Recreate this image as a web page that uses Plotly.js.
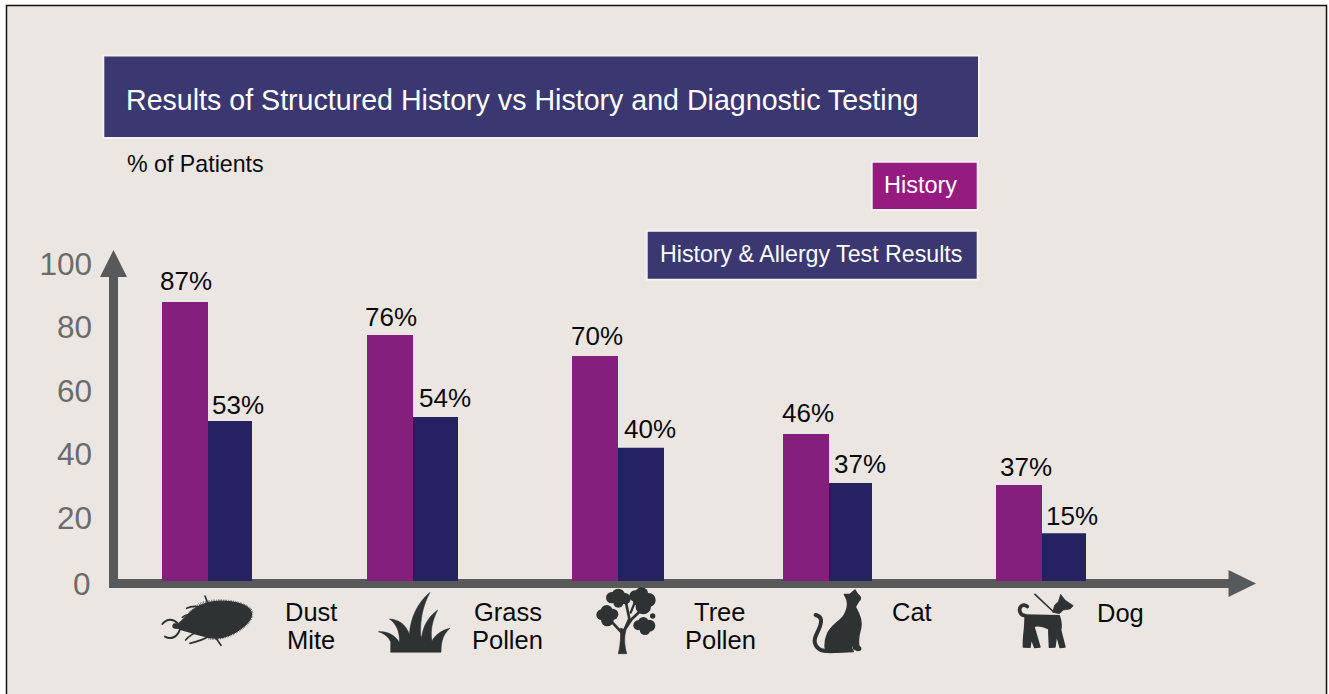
<!DOCTYPE html>
<html>
<head>
<meta charset="utf-8">
<script src="https://cdn.plot.ly/plotly-3.0.1.min.js"></script>
<style>html,body{margin:0;padding:0;background:#fff}#chart{width:1329px;height:694px}</style>
</head>
<body>
<div id="chart"></div>
<script>
// ---- chart data ----
const categories = ["Dust Mite", "Grass Pollen", "Tree Pollen", "Cat", "Dog"];
const seriesNames = ["History", "History & Allergy Test Results"];
const historyHeights = [88, 77.6, 71, 46.4, 30.3];
const testHeights = [50.5, 51.7, 42, 30.9, 15.1];
const historyLabels = ["87%", "76%", "70%", "46%", "37%"];
const testLabels = ["53%", "54%", "40%", "37%", "15%"];
const yTicks = [0, 20, 40, 60, 80, 100];
const titleText = "Results of Structured History vs History and Diagnostic Testing";
const unitText = "% of Patients";

// ---- layout: everything below is in page pixels ----
const W = 1329, H = 694;
const px = x => x / W, py = y => 1 - y / H;
const groupX = [208, 413, 618, 829, 1042];
const testBarWidths = [44, 45, 46, 43, 44];
const catLabelX = [311, 508, 720, 912, 1120];
const histShiftX = [-22, -22, -21, -21, -16];
const histShiftY = [21, 18, 20, 21, 18];
const testShiftX = [30, 32, 32, 31, 30];
const testShiftY = [16, 19, 19, 19, 17];

const C = {bg:"#EBE6E2", purple:"#841F7E", navy:"#262262", banner:"#3B3771", legend:"#951B81",
           edge:"#F4F1EF", axis:"#58595B", tick:"#6A6B6D", icon:"#2F3233"};
const FONT = "Liberation Sans, Arial, sans-serif";
const INK = "#0A0A0A";

function rect(x0, y0, x1, y1, fill, line, lw) {
  return {type:"rect", xref:"paper", yref:"paper", layer:"below",
          x0:px(x0), x1:px(x1), y0:py(y0), y1:py(y1),
          fillcolor:fill, line:{color:line||fill, width:lw===undefined?0:lw}};
}
function poly(points, fill) {
  const d = points.map((p,i)=>(i?"L":"M")+px(p[0])+","+py(p[1])).join(" ")+" Z";
  return {type:"path", xref:"paper", yref:"paper", layer:"below", path:d, fillcolor:fill, line:{width:0}};
}
function text(x, y, s, size, color, anchor) {
  return {xref:"paper", yref:"paper", x:px(x), y:py(y), text:s, showarrow:false,
          xanchor:anchor||"left", yanchor:"middle", font:{family:FONT, size:size, color:color}};
}

const shapes = [
  rect(6.5, 5.5, 1326.5, 720, C.bg, "#111111", 1.5),
  rect(103.3, 55.5, 979, 138, C.banner, C.edge, 2),
  rect(871.7, 161.7, 977.7, 210, C.legend, C.edge, 2),
  rect(646.7, 230.7, 977.7, 279.7, C.banner, C.edge, 2),
  rect(109, 275, 118, 588, C.axis),
  poly([[113.5,250],[127,277],[100,277]], C.axis),
  rect(110, 579, 1229, 588, C.axis),
  poly([[1256,583.5],[1228.5,570],[1228.5,597]], C.axis)
];

const annotations = [
  text(124, 100, titleText, 28.6, "#FFFFFF"),
  text(125, 164, unitText, 23.2, INK),
  text(882, 185, seriesNames[0], 23.5, "#FFFFFF"),
  text(658, 254, seriesNames[1], 23.2, "#FFFFFF"),
  {xref:"x", yref:"y", x:93, y:yTicks[0], yshift:-3, text:String(yTicks[0]), showarrow:false,
   xanchor:"right", yanchor:"middle", font:{family:FONT,size:31.5,color:C.tick}}
];
categories.forEach((c,i)=>{
  const lines = c.split(" ");
  lines.forEach((ln,k)=>annotations.push(text(catLabelX[i], (i===4?613:i===3?612:611.5)+k*28.5, ln, 25.5, INK, "center")));
  annotations.push({xref:"x", yref:"y", x:groupX[i], y:historyHeights[i], text:historyLabels[i], showarrow:false,
    xanchor:"center", yanchor:"middle", xshift:histShiftX[i], yshift:histShiftY[i], font:{family:FONT,size:26,color:INK}});
  annotations.push({xref:"x", yref:"y", x:groupX[i], y:testHeights[i], text:testLabels[i], showarrow:false,
    xanchor:"center", yanchor:"middle", xshift:testShiftX[i], yshift:testShiftY[i], font:{family:FONT,size:26,color:INK}});
});

// ---- silhouettes for the categories ----
function svgIcon(w, h, body) {
  const s = `<svg xmlns="http://www.w3.org/2000/svg" width="${w}" height="${h}" viewBox="0 0 ${w} ${h}">` +
            `<g fill="${C.icon}" stroke="none">${body}</g></svg>`;
  return "data:image/svg+xml;charset=utf-8," + encodeURIComponent(s);
}
const sl = (d, w) => `<path d="${d}" fill="none" stroke="${C.icon}" stroke-width="${w}" stroke-linecap="round" stroke-linejoin="round"/>`;
const fat = (d, w) => `<path d="${d}" stroke="${C.icon}" stroke-width="${w}" stroke-linejoin="round"/>`;
const circ = a => a.map(c=>`<circle cx="${c[0]}" cy="${c[1]}" r="${c[2]}"/>`).join("");

const miteBody = fat("M72,100 C95,82 112,50 160,38 C200,28 264,36 284,58 C298,76 282,98 257,116 C225,140 190,148 160,142 C130,136 100,124 76,118 Z", 4) +
  `<path d="M100,75 C112,50 140,36 160,34 C200,26 268,34 288,58 C300,76 284,100 258,118 C225,142 190,150 160,146" fill="none" stroke="${C.icon}" stroke-width="6" stroke-dasharray="1.5 3.5"/>` +
  sl("M68,100 C55,86 36,84 22,102",6) + sl("M75,118 C66,142 48,150 30,140",6) + sl("M60,108 L84,110",16) +
  sl("M150,18 L160,44",5) + sl("M95,55 C110,47 125,47 142,54",5) + sl("M82,82 C95,72 110,70 128,72",5) +
  sl("M92,150 C105,135 115,130 132,124",5) + sl("M105,160 C125,155 145,150 162,138",5) + sl("M198,166 L180,140",5);
const grassBody = fat("M62,202 L62,170 C55,155 42,145 25,140 C50,138 75,150 88,172 C90,140 78,115 58,102 C85,103 108,118 118,148 C122,100 140,55 180,22 C160,60 150,100 152,150 L155,158 C158,125 175,95 203,75 C188,105 180,135 186,168 C195,150 215,135 240,130 C222,145 213,165 213,202 Z", 1.5);
const treeBody = circ([[65,47,17],[85,40,20],[105,50,17],[85,62,15],[135,42,17],[155,36,20],[176,54,21],[160,74,23],[145,55,17],
                       [35,98,16],[50,87,18],[68,97,17],[52,114,19],[145,130,15],[160,121,16],[178,131,18],[165,143,16],[188,102,8]]) +
  fat("M85,215 L110,215 C103,190 102,165 108,145 L92,138 C92,160 92,190 85,215 Z", 2) +
  sl("M98,155 L64,118",8) + sl("M103,145 L118,110 L108,62",8) + sl("M106,140 L125,112 L150,88",8) + sl("M122,92 L135,60",7);
const catBody = fat("M150,15 L158,28 C168,35 170,42 160,50 C158,58 150,60 152,68 C162,85 172,110 167,130 C162,150 157,165 162,183 C170,188 170,197 158,197 L146,192 C146,180 142,172 140,190 L145,200 L72,203 C56,200 58,170 66,150 C76,122 102,112 116,93 C126,76 130,60 126,45 L118,28 L135,28 Z", 4) +
  sl("M65,198 C40,198 25,180 30,160 C35,140 50,125 48,105 C46,92 38,92 32,90",12);
const dogBody = fat("M45,90 L148,92 C155,110 154,130 152,135 L165,186 L150,188 L140,150 L135,186 L118,187 L116,132 C100,124 85,120 72,124 L78,145 L90,186 L74,188 L64,162 L60,187 L40,186 C38,160 46,130 45,90 Z", 4) +
  fat("M128,82 L134,60 L145,50 L152,28 L165,45 L190,62 L180,72 L160,75 L148,86 Z", 2) +
  sl("M75,28 L128,78",5) + sl("M45,92 C30,90 25,75 32,65 C38,58 48,60 52,65",11);

const icons = [
  [155,590,120,65,360,195,miteBody],
  [370,585,90,75,270,225,grassBody],
  [590,582,80,78,240,234,treeBody],
  [805,585,70,72,210,216,catBody],
  [1010,585,70,72,210,216,dogBody]
].map(a=>({source:svgIcon(a[4],a[5],a[6]), xref:"paper", yref:"paper", x:px(a[0]), y:py(a[1]),
           sizex:a[2]/W, sizey:a[3]/H, xanchor:"left", yanchor:"top", sizing:"stretch", layer:"above"}));

const traces = [
  {type:"bar", name:seriesNames[0], x:groupX, y:historyHeights, width:46, offset:-46, marker:{color:C.purple}, hoverinfo:"skip"},
  {type:"bar", name:seriesNames[1], x:groupX, y:testHeights, width:testBarWidths, offset:0, marker:{color:C.navy}, hoverinfo:"skip"}
];

const layout = {
  width:W, height:H, autosize:false, showlegend:false,
  margin:{l:0,r:0,t:0,b:0,pad:0},
  paper_bgcolor:"#FFFFFF", plot_bgcolor:"rgba(0,0,0,0)",
  barmode:"overlay",
  xaxis:{domain:[px(93),px(1255)], range:[93,1255], showgrid:false, zeroline:false, showline:false,
         ticks:"", showticklabels:false, fixedrange:true},
  yaxis:{domain:[py(581),py(264)], range:[0,100], showgrid:false, zeroline:false, showline:false,
         tickmode:"array", tickvals:yTicks.slice(1), ticktext:yTicks.slice(1).map(String), ticks:"",
         tickfont:{family:FONT,size:31.5,color:C.tick}, fixedrange:true, automargin:false},
  shapes:shapes, annotations:annotations, images:icons
};
Plotly.newPlot("chart", traces, layout, {displayModeBar:false, staticPlot:true});
</script>
</body>
</html>
